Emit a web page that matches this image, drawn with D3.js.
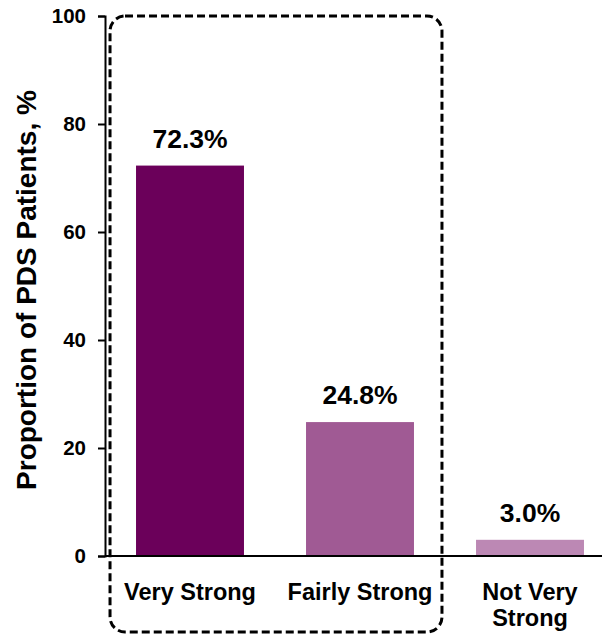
<!DOCTYPE html>
<html>
<head>
<meta charset="utf-8">
<script src="https://cdn.jsdelivr.net/npm/d3@7"></script>
<style>
  html, body { margin: 0; padding: 0; background: #fff; }
  svg { display: block; font-family: "Liberation Sans", Arial, sans-serif; font-weight: bold; }
</style>
</head>
<body>
<svg id="chart" width="602" height="635"></svg>
<script>
// Strength of response among PDS patients
const categories = ["Very Strong", "Fairly Strong", "Not Very Strong"];
const categoryLines = [["Very Strong"], ["Fairly Strong"], ["Not Very", "Strong"]];
const values = [72.3, 24.8, 3.0];
const valueLabels = ["72.3%", "24.8%", "3.0%"];
const barColors = ["#6B005A", "#A05A94", "#BC88B4"];
const yTicks = [0, 20, 40, 60, 80, 100];
const yTitle = "Proportion of PDS Patients, %";

const svg = d3.select("#chart");
const axisX = 105, yTop = 16, yBottom = 556;

const x = d3.scaleBand()
  .domain(categories)
  .range([axisX, 615])
  .paddingInner(0.365)
  .paddingOuter(0.1825);

const y = d3.scaleLinear().domain([0, 100]).range([yBottom, yTop]);

// Bars
svg.append("g").selectAll("rect")
  .data(categories)
  .join("rect")
  .attr("x", d => x(d))
  .attr("y", (d, i) => y(values[i]))
  .attr("width", x.bandwidth())
  .attr("height", (d, i) => y(0) - y(values[i]))
  .attr("fill", (d, i) => barColors[i]);

// Value labels above bars
svg.append("g").selectAll("text")
  .data(categories)
  .join("text")
  .attr("x", d => x(d) + x.bandwidth() / 2)
  .attr("y", (d, i) => y(values[i]) - 18)
  .attr("text-anchor", "middle")
  .attr("font-size", 26.5)
  .attr("fill", "#000")
  .text((d, i) => valueLabels[i]);

// Y axis
const yAxis = d3.axisLeft(y).tickValues(yTicks).tickSize(7).tickPadding(12).tickFormat(d3.format("d"));
const gy = svg.append("g").attr("transform", `translate(${axisX},0)`).call(yAxis);
gy.select(".domain").attr("stroke", "#000").attr("stroke-width", 2);
gy.selectAll(".tick line").attr("stroke", "#000").attr("stroke-width", 2);
gy.selectAll(".tick text")
  .attr("font-family", "Liberation Sans, Arial, sans-serif")
  .attr("font-weight", "bold")
  .attr("font-size", 20.5)
  .attr("fill", "#000");

// X baseline
svg.append("line")
  .attr("x1", axisX).attr("x2", 602)
  .attr("y1", y(0)).attr("y2", y(0))
  .attr("stroke", "#000").attr("stroke-width", 2);

// Category labels
const catG = svg.append("g").selectAll("text")
  .data(categories)
  .join("text")
  .attr("text-anchor", "middle")
  .attr("font-size", 23.5)
  .attr("fill", "#000");
catG.each(function(d, i) {
  const t = d3.select(this);
  categoryLines[i].forEach((line, j) => {
    t.append("tspan")
      .attr("x", x(d) + x.bandwidth() / 2)
      .attr("y", 600 + j * 26)
      .text(line);
  });
});

// Y axis title
svg.append("text")
  .attr("transform", `translate(36,290) rotate(-90)`)
  .attr("text-anchor", "middle")
  .attr("font-size", 28)
  .attr("fill", "#000")
  .text(yTitle);

// Dashed group outline around the two strong categories
const boxLeft = x(categories[0]) - 26;
const boxRight = x(categories[1]) + x.bandwidth() + 28;
svg.append("rect")
  .attr("x", boxLeft)
  .attr("y", yTop)
  .attr("width", boxRight - boxLeft)
  .attr("height", 632 - yTop)
  .attr("rx", 15).attr("ry", 15)
  .attr("fill", "none")
  .attr("stroke", "#000")
  .attr("stroke-width", 3)
  .attr("stroke-dasharray", "8,4");
</script>
</body>
</html>
